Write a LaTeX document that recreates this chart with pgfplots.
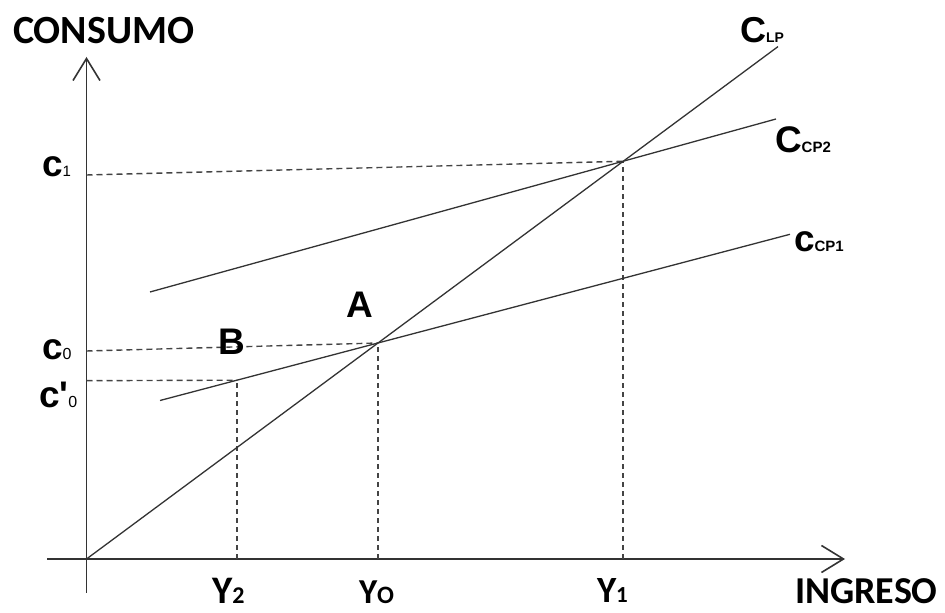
\documentclass[border=0pt]{standalone}
\usepackage{pgfplots}
\pgfplotsset{compat=1.18}
\usepackage{fontspec}
\usetikzlibrary{arrows.meta}
\newfontfamily\carlito{Carlito}
\newfontfamily\arial{Liberation Sans}
\newcommand{\fs}[1]{\fontsize{#1bp}{#1bp}\selectfont}
\definecolor{ink}{HTML}{333333}
\definecolor{guide}{HTML}{444444}
\tikzset{lbl/.style={inner sep=0pt, outer sep=0pt, anchor=base west}}
\begin{document}
\begin{tikzpicture}
\begin{axis}[
  name=ax,
  x=1bp, y=1bp,
  xmin=0, xmax=945, ymin=0, ymax=613,
  hide axis, clip=false,
]
% axes
\addplot[ink, line width=1.6bp, -{Straight Barb[length=22bp,width=27bp]}]
  coordinates {(86.5,20) (86.5,556)};
\addplot[ink, line width=1.6bp, -{Straight Barb[length=22bp,width=27bp]}]
  coordinates {(47,54) (845,54)};

% guide lines
\addplot[guide, line width=1.4bp, dash pattern=on 6bp off 4bp]
  coordinates {(86.5,438) (623,451.7)};
\addplot[guide, line width=1.4bp, dash pattern=on 6bp off 4bp]
  coordinates {(86.5,262) (378,270)};
\addplot[guide, line width=1.4bp, dash pattern=on 6bp off 4bp]
  coordinates {(86.5,232.3) (237,232.8)};
\addplot[guide, line width=1.2bp, dash pattern=on 5bp off 4bp]
  coordinates {(237,54) (237,232.8)};
\addplot[guide, line width=1.2bp, dash pattern=on 5bp off 4bp]
  coordinates {(378,54) (378,270)};
\addplot[guide, line width=1.2bp, dash pattern=on 5bp off 4bp]
  coordinates {(623,54) (623,451.7)};

% consumption functions
\addplot[ink, line width=1.3bp] coordinates {(86.5,54) (778,566.4)};   % C_LP
\addplot[ink, line width=1.3bp] coordinates {(150,321) (776,494)};     % C_CP2
\addplot[ink, line width=1.3bp] coordinates {(160,212.5) (790,378.7)}; % c_CP1

% axis titles
\node[lbl] at (axis cs:13,569) {\carlito\bfseries\fs{40}CONSUMO};
\node[lbl] at (axis cs:795,9) {\carlito\bfseries\fs{38}INGRESO};

% income levels
\node[lbl] at (axis cs:212,9) {\carlito\bfseries\fs{39}Y\fs{24}2};
\node[lbl] at (axis cs:359,9) {\carlito\bfseries\fs{35}Y\fs{25}O};
\node[lbl] at (axis cs:597,10) {\carlito\bfseries\fs{37}Y\fs{23}1};

% consumption levels
\node[lbl] at (axis cs:42,436) {\arial\bfseries\fs{37}c\mdseries\fs{15}1};
\node[lbl] at (axis cs:42,253) {\arial\bfseries\fs{37}c\mdseries\fs{16}0};
\node[lbl] at (axis cs:39,205) {\arial\bfseries\fs{37}c'\mdseries\fs{16}0};

% points
\node[lbl] at (axis cs:346,295) {\arial\bfseries\fs{37}A};
\node[lbl] at (axis cs:218,258) {\arial\bfseries\fs{37}B};

% curve names
\node[lbl] at (axis cs:740,570) {\arial\bfseries\fs{36}C\fs{14}LP};
\node[lbl] at (axis cs:775,460) {\arial\bfseries\fs{37}C\fs{15}CP2};
\node[lbl] at (axis cs:794,361) {\arial\bfseries\fs{37}c\fs{15}CP1};
\end{axis}
\pgfresetboundingbox
\path (ax.south west) rectangle (ax.north east);
\end{tikzpicture}
\end{document}
